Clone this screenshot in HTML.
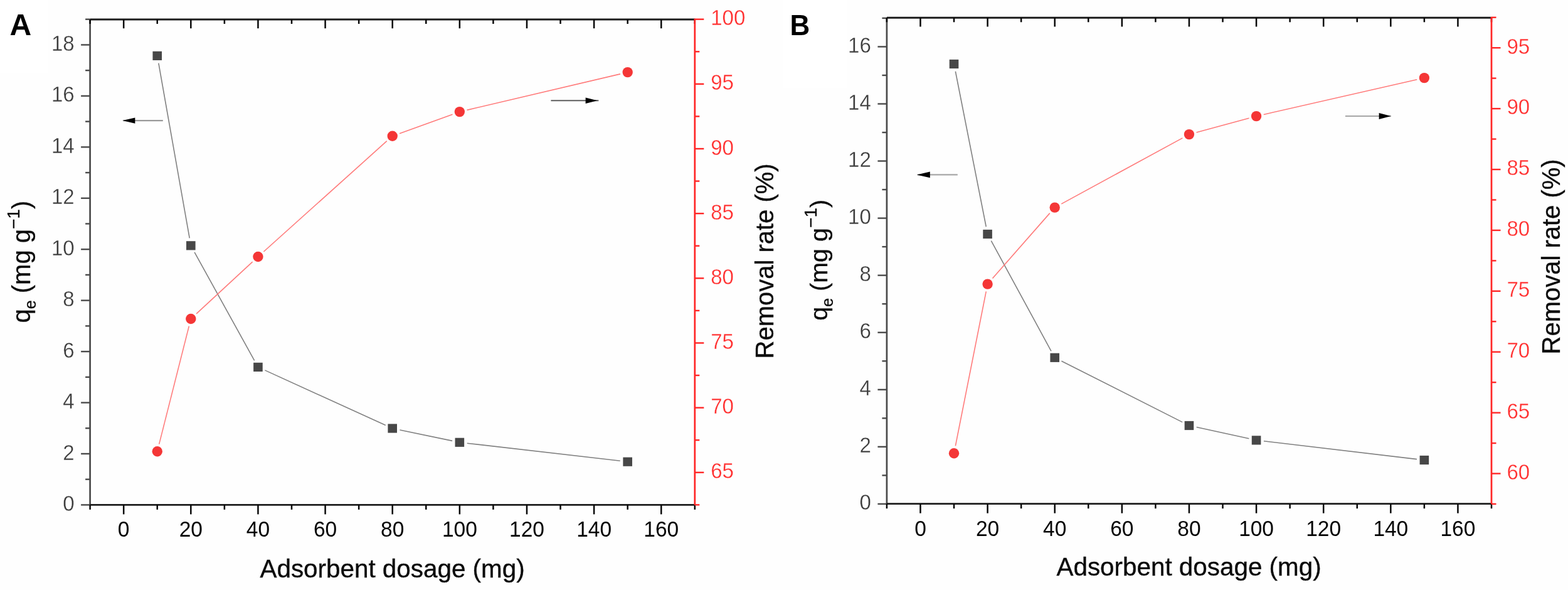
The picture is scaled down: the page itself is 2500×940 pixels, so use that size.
<!DOCTYPE html>
<html><head><meta charset="utf-8"><title>Adsorbent dosage</title>
<style>html,body{margin:0;padding:0;background:#fff;} svg{display:block;}</style></head>
<body><svg width="2500" height="940" viewBox="0 0 2500 940" font-family="Liberation Sans, Arial, sans-serif">
<rect width="2500" height="940" fill="#fefefe"/>
<rect width="76" height="116" fill="#fff"/>
<rect x="1248" width="102" height="140" fill="#fff"/>
<line x1="143.60" y1="31.00" x2="143.60" y2="804.40" stroke="#4a4a4a" stroke-width="2.7"/>
<line x1="129.10" y1="804.40" x2="143.60" y2="804.40" stroke="#4a4a4a" stroke-width="2.4"/>
<text transform="translate(118.60,814.00) scale(1,1.04)" text-anchor="end" font-size="33" fill="#3c3c3c" stroke="#fefefe" stroke-width="0.3">0</text>
<line x1="129.10" y1="722.96" x2="143.60" y2="722.96" stroke="#4a4a4a" stroke-width="2.4"/>
<text transform="translate(118.60,732.56) scale(1,1.04)" text-anchor="end" font-size="33" fill="#3c3c3c" stroke="#fefefe" stroke-width="0.3">2</text>
<line x1="129.10" y1="641.52" x2="143.60" y2="641.52" stroke="#4a4a4a" stroke-width="2.4"/>
<text transform="translate(118.60,651.12) scale(1,1.04)" text-anchor="end" font-size="33" fill="#3c3c3c" stroke="#fefefe" stroke-width="0.3">4</text>
<line x1="129.10" y1="560.08" x2="143.60" y2="560.08" stroke="#4a4a4a" stroke-width="2.4"/>
<text transform="translate(118.60,569.68) scale(1,1.04)" text-anchor="end" font-size="33" fill="#3c3c3c" stroke="#fefefe" stroke-width="0.3">6</text>
<line x1="129.10" y1="478.64" x2="143.60" y2="478.64" stroke="#4a4a4a" stroke-width="2.4"/>
<text transform="translate(118.60,488.24) scale(1,1.04)" text-anchor="end" font-size="33" fill="#3c3c3c" stroke="#fefefe" stroke-width="0.3">8</text>
<line x1="129.10" y1="397.20" x2="143.60" y2="397.20" stroke="#4a4a4a" stroke-width="2.4"/>
<text transform="translate(118.60,406.80) scale(1,1.04)" text-anchor="end" font-size="33" fill="#3c3c3c" stroke="#fefefe" stroke-width="0.3">10</text>
<line x1="129.10" y1="315.76" x2="143.60" y2="315.76" stroke="#4a4a4a" stroke-width="2.4"/>
<text transform="translate(118.60,325.36) scale(1,1.04)" text-anchor="end" font-size="33" fill="#3c3c3c" stroke="#fefefe" stroke-width="0.3">12</text>
<line x1="129.10" y1="234.32" x2="143.60" y2="234.32" stroke="#4a4a4a" stroke-width="2.4"/>
<text transform="translate(118.60,243.92) scale(1,1.04)" text-anchor="end" font-size="33" fill="#3c3c3c" stroke="#fefefe" stroke-width="0.3">14</text>
<line x1="129.10" y1="152.88" x2="143.60" y2="152.88" stroke="#4a4a4a" stroke-width="2.4"/>
<text transform="translate(118.60,162.48) scale(1,1.04)" text-anchor="end" font-size="33" fill="#3c3c3c" stroke="#fefefe" stroke-width="0.3">16</text>
<line x1="129.10" y1="71.44" x2="143.60" y2="71.44" stroke="#4a4a4a" stroke-width="2.4"/>
<text transform="translate(118.60,81.04) scale(1,1.04)" text-anchor="end" font-size="33" fill="#3c3c3c" stroke="#fefefe" stroke-width="0.3">18</text>
<line x1="136.10" y1="763.68" x2="143.60" y2="763.68" stroke="#4a4a4a" stroke-width="2.4"/>
<line x1="136.10" y1="682.24" x2="143.60" y2="682.24" stroke="#4a4a4a" stroke-width="2.4"/>
<line x1="136.10" y1="600.80" x2="143.60" y2="600.80" stroke="#4a4a4a" stroke-width="2.4"/>
<line x1="136.10" y1="519.36" x2="143.60" y2="519.36" stroke="#4a4a4a" stroke-width="2.4"/>
<line x1="136.10" y1="437.92" x2="143.60" y2="437.92" stroke="#4a4a4a" stroke-width="2.4"/>
<line x1="136.10" y1="356.48" x2="143.60" y2="356.48" stroke="#4a4a4a" stroke-width="2.4"/>
<line x1="136.10" y1="275.04" x2="143.60" y2="275.04" stroke="#4a4a4a" stroke-width="2.4"/>
<line x1="136.10" y1="193.60" x2="143.60" y2="193.60" stroke="#4a4a4a" stroke-width="2.4"/>
<line x1="136.10" y1="112.16" x2="143.60" y2="112.16" stroke="#4a4a4a" stroke-width="2.4"/>
<line x1="136.10" y1="30.72" x2="143.60" y2="30.72" stroke="#4a4a4a" stroke-width="2.4"/>
<line x1="143.60" y1="804.40" x2="1107.80" y2="804.40" stroke="#1c1c1c" stroke-width="2.8"/>
<line x1="143.60" y1="31.00" x2="1107.80" y2="31.00" stroke="#1c1c1c" stroke-width="2.9"/>
<line x1="197.17" y1="804.40" x2="197.17" y2="819.40" stroke="#080808" stroke-width="2.5"/>
<line x1="197.17" y1="31.00" x2="197.17" y2="45.20" stroke="#080808" stroke-width="2.5"/>
<text transform="translate(197.17,855.40) scale(1,1.04)" text-anchor="middle" font-size="33.5" fill="#050505">0</text>
<line x1="304.30" y1="804.40" x2="304.30" y2="819.40" stroke="#080808" stroke-width="2.5"/>
<line x1="304.30" y1="31.00" x2="304.30" y2="45.20" stroke="#080808" stroke-width="2.5"/>
<text transform="translate(304.30,855.40) scale(1,1.04)" text-anchor="middle" font-size="33.5" fill="#050505">20</text>
<line x1="411.43" y1="804.40" x2="411.43" y2="819.40" stroke="#080808" stroke-width="2.5"/>
<line x1="411.43" y1="31.00" x2="411.43" y2="45.20" stroke="#080808" stroke-width="2.5"/>
<text transform="translate(411.43,855.40) scale(1,1.04)" text-anchor="middle" font-size="33.5" fill="#050505">40</text>
<line x1="518.57" y1="804.40" x2="518.57" y2="819.40" stroke="#080808" stroke-width="2.5"/>
<line x1="518.57" y1="31.00" x2="518.57" y2="45.20" stroke="#080808" stroke-width="2.5"/>
<text transform="translate(518.57,855.40) scale(1,1.04)" text-anchor="middle" font-size="33.5" fill="#050505">60</text>
<line x1="625.70" y1="804.40" x2="625.70" y2="819.40" stroke="#080808" stroke-width="2.5"/>
<line x1="625.70" y1="31.00" x2="625.70" y2="45.20" stroke="#080808" stroke-width="2.5"/>
<text transform="translate(625.70,855.40) scale(1,1.04)" text-anchor="middle" font-size="33.5" fill="#050505">80</text>
<line x1="732.83" y1="804.40" x2="732.83" y2="819.40" stroke="#080808" stroke-width="2.5"/>
<line x1="732.83" y1="31.00" x2="732.83" y2="45.20" stroke="#080808" stroke-width="2.5"/>
<text transform="translate(732.83,855.40) scale(1,1.04)" text-anchor="middle" font-size="33.5" fill="#050505">100</text>
<line x1="839.97" y1="804.40" x2="839.97" y2="819.40" stroke="#080808" stroke-width="2.5"/>
<line x1="839.97" y1="31.00" x2="839.97" y2="45.20" stroke="#080808" stroke-width="2.5"/>
<text transform="translate(839.97,855.40) scale(1,1.04)" text-anchor="middle" font-size="33.5" fill="#050505">120</text>
<line x1="947.10" y1="804.40" x2="947.10" y2="819.40" stroke="#080808" stroke-width="2.5"/>
<line x1="947.10" y1="31.00" x2="947.10" y2="45.20" stroke="#080808" stroke-width="2.5"/>
<text transform="translate(947.10,855.40) scale(1,1.04)" text-anchor="middle" font-size="33.5" fill="#050505">140</text>
<line x1="1054.23" y1="804.40" x2="1054.23" y2="819.40" stroke="#080808" stroke-width="2.5"/>
<line x1="1054.23" y1="31.00" x2="1054.23" y2="45.20" stroke="#080808" stroke-width="2.5"/>
<text transform="translate(1054.23,855.40) scale(1,1.04)" text-anchor="middle" font-size="33.5" fill="#050505">160</text>
<line x1="143.60" y1="804.40" x2="143.60" y2="811.90" stroke="#080808" stroke-width="2.5"/>
<line x1="143.60" y1="31.00" x2="143.60" y2="38.00" stroke="#080808" stroke-width="2.5"/>
<line x1="250.73" y1="804.40" x2="250.73" y2="811.90" stroke="#080808" stroke-width="2.5"/>
<line x1="250.73" y1="31.00" x2="250.73" y2="38.00" stroke="#080808" stroke-width="2.5"/>
<line x1="357.87" y1="804.40" x2="357.87" y2="811.90" stroke="#080808" stroke-width="2.5"/>
<line x1="357.87" y1="31.00" x2="357.87" y2="38.00" stroke="#080808" stroke-width="2.5"/>
<line x1="465.00" y1="804.40" x2="465.00" y2="811.90" stroke="#080808" stroke-width="2.5"/>
<line x1="465.00" y1="31.00" x2="465.00" y2="38.00" stroke="#080808" stroke-width="2.5"/>
<line x1="572.13" y1="804.40" x2="572.13" y2="811.90" stroke="#080808" stroke-width="2.5"/>
<line x1="572.13" y1="31.00" x2="572.13" y2="38.00" stroke="#080808" stroke-width="2.5"/>
<line x1="679.27" y1="804.40" x2="679.27" y2="811.90" stroke="#080808" stroke-width="2.5"/>
<line x1="679.27" y1="31.00" x2="679.27" y2="38.00" stroke="#080808" stroke-width="2.5"/>
<line x1="786.40" y1="804.40" x2="786.40" y2="811.90" stroke="#080808" stroke-width="2.5"/>
<line x1="786.40" y1="31.00" x2="786.40" y2="38.00" stroke="#080808" stroke-width="2.5"/>
<line x1="893.53" y1="804.40" x2="893.53" y2="811.90" stroke="#080808" stroke-width="2.5"/>
<line x1="893.53" y1="31.00" x2="893.53" y2="38.00" stroke="#080808" stroke-width="2.5"/>
<line x1="1000.67" y1="804.40" x2="1000.67" y2="811.90" stroke="#080808" stroke-width="2.5"/>
<line x1="1000.67" y1="31.00" x2="1000.67" y2="38.00" stroke="#080808" stroke-width="2.5"/>
<line x1="1107.80" y1="804.40" x2="1107.80" y2="811.90" stroke="#080808" stroke-width="2.5"/>
<line x1="1107.80" y1="31.00" x2="1107.80" y2="38.00" stroke="#080808" stroke-width="2.5"/>
<line x1="1107.80" y1="29.80" x2="1107.80" y2="804.40" stroke="#ff2626" stroke-width="2.7"/>
<line x1="1107.80" y1="752.75" x2="1122.30" y2="752.75" stroke="#ff2626" stroke-width="2.4"/>
<text transform="translate(1133.20,762.35) scale(1,1.04)" font-size="33" fill="#ff2f2f" stroke="#fefefe" stroke-width="0.3">65</text>
<line x1="1107.80" y1="649.60" x2="1122.30" y2="649.60" stroke="#ff2626" stroke-width="2.4"/>
<text transform="translate(1133.20,659.20) scale(1,1.04)" font-size="33" fill="#ff2f2f" stroke="#fefefe" stroke-width="0.3">70</text>
<line x1="1107.80" y1="546.45" x2="1122.30" y2="546.45" stroke="#ff2626" stroke-width="2.4"/>
<text transform="translate(1133.20,556.05) scale(1,1.04)" font-size="33" fill="#ff2f2f" stroke="#fefefe" stroke-width="0.3">75</text>
<line x1="1107.80" y1="443.30" x2="1122.30" y2="443.30" stroke="#ff2626" stroke-width="2.4"/>
<text transform="translate(1133.20,452.90) scale(1,1.04)" font-size="33" fill="#ff2f2f" stroke="#fefefe" stroke-width="0.3">80</text>
<line x1="1107.80" y1="340.15" x2="1122.30" y2="340.15" stroke="#ff2626" stroke-width="2.4"/>
<text transform="translate(1133.20,349.75) scale(1,1.04)" font-size="33" fill="#ff2f2f" stroke="#fefefe" stroke-width="0.3">85</text>
<line x1="1107.80" y1="237.00" x2="1122.30" y2="237.00" stroke="#ff2626" stroke-width="2.4"/>
<text transform="translate(1133.20,246.60) scale(1,1.04)" font-size="33" fill="#ff2f2f" stroke="#fefefe" stroke-width="0.3">90</text>
<line x1="1107.80" y1="133.85" x2="1122.30" y2="133.85" stroke="#ff2626" stroke-width="2.4"/>
<text transform="translate(1133.20,143.45) scale(1,1.04)" font-size="33" fill="#ff2f2f" stroke="#fefefe" stroke-width="0.3">95</text>
<line x1="1107.80" y1="30.70" x2="1122.30" y2="30.70" stroke="#ff2626" stroke-width="2.4"/>
<text transform="translate(1133.20,40.30) scale(1,1.04)" font-size="33" fill="#ff2f2f" stroke="#fefefe" stroke-width="0.3">100</text>
<line x1="1107.80" y1="804.33" x2="1115.30" y2="804.33" stroke="#ff2626" stroke-width="2.4"/>
<line x1="1107.80" y1="701.18" x2="1115.30" y2="701.18" stroke="#ff2626" stroke-width="2.4"/>
<line x1="1107.80" y1="598.02" x2="1115.30" y2="598.02" stroke="#ff2626" stroke-width="2.4"/>
<line x1="1107.80" y1="494.87" x2="1115.30" y2="494.87" stroke="#ff2626" stroke-width="2.4"/>
<line x1="1107.80" y1="391.72" x2="1115.30" y2="391.72" stroke="#ff2626" stroke-width="2.4"/>
<line x1="1107.80" y1="288.57" x2="1115.30" y2="288.57" stroke="#ff2626" stroke-width="2.4"/>
<line x1="1107.80" y1="185.42" x2="1115.30" y2="185.42" stroke="#ff2626" stroke-width="2.4"/>
<line x1="1107.80" y1="82.27" x2="1115.30" y2="82.27" stroke="#ff2626" stroke-width="2.4"/>
<line x1="252.83" y1="100.72" x2="302.21" y2="379.48" stroke="#808080" stroke-width="1.6"/>
<line x1="310.11" y1="401.80" x2="405.62" y2="574.40" stroke="#808080" stroke-width="1.6"/>
<line x1="422.35" y1="589.87" x2="614.78" y2="677.53" stroke="#808080" stroke-width="1.6"/>
<line x1="637.45" y1="684.95" x2="721.09" y2="702.35" stroke="#808080" stroke-width="1.6"/>
<line x1="744.75" y1="706.18" x2="988.75" y2="734.32" stroke="#808080" stroke-width="1.6"/>
<line x1="253.68" y1="707.67" x2="301.35" y2="519.63" stroke="#ff7a7a" stroke-width="1.6"/>
<line x1="313.11" y1="499.86" x2="402.62" y2="417.14" stroke="#ff7a7a" stroke-width="1.6"/>
<line x1="420.36" y1="400.98" x2="616.77" y2="224.72" stroke="#ff7a7a" stroke-width="1.6"/>
<line x1="636.99" y1="212.63" x2="721.54" y2="182.17" stroke="#ff7a7a" stroke-width="1.6"/>
<line x1="744.51" y1="175.35" x2="988.99" y2="117.85" stroke="#ff7a7a" stroke-width="1.6"/>
<rect x="243.43" y="81.80" width="14.6" height="14.2" fill="#474747"/>
<rect x="297.00" y="384.20" width="14.6" height="14.2" fill="#474747"/>
<rect x="404.13" y="577.80" width="14.6" height="14.2" fill="#474747"/>
<rect x="618.40" y="675.40" width="14.6" height="14.2" fill="#474747"/>
<rect x="725.53" y="697.70" width="14.6" height="14.2" fill="#474747"/>
<rect x="993.37" y="728.60" width="14.6" height="14.2" fill="#474747"/>
<circle cx="250.73" cy="719.30" r="8.2" fill="#f43636"/>
<circle cx="304.30" cy="508.00" r="8.2" fill="#f43636"/>
<circle cx="411.43" cy="409.00" r="8.2" fill="#f43636"/>
<circle cx="625.70" cy="216.70" r="8.2" fill="#f43636"/>
<circle cx="732.83" cy="178.10" r="8.2" fill="#f43636"/>
<circle cx="1000.67" cy="115.10" r="8.2" fill="#f43636"/>
<line x1="196.50" y1="192.10" x2="259.80" y2="192.10" stroke="#999999" stroke-width="2.1"/>
<polygon points="195.20,192.10 215.40,187.40 215.40,196.80" fill="#000"/>
<line x1="878.40" y1="160.20" x2="954.40" y2="160.20" stroke="#5c5c5c" stroke-width="2.1"/>
<polygon points="952.50,160.20 933.60,155.50 933.60,164.90" fill="#000"/>
<line x1="1413.90" y1="28.30" x2="1413.90" y2="802.70" stroke="#4a4a4a" stroke-width="2.7"/>
<line x1="1399.40" y1="802.90" x2="1413.90" y2="802.90" stroke="#4a4a4a" stroke-width="2.4"/>
<text transform="translate(1388.80,812.20) scale(1,1.04)" text-anchor="end" font-size="33" fill="#3c3c3c" stroke="#fefefe" stroke-width="0.3">0</text>
<line x1="1399.40" y1="711.84" x2="1413.90" y2="711.84" stroke="#4a4a4a" stroke-width="2.4"/>
<text transform="translate(1388.80,721.14) scale(1,1.04)" text-anchor="end" font-size="33" fill="#3c3c3c" stroke="#fefefe" stroke-width="0.3">2</text>
<line x1="1399.40" y1="620.78" x2="1413.90" y2="620.78" stroke="#4a4a4a" stroke-width="2.4"/>
<text transform="translate(1388.80,630.08) scale(1,1.04)" text-anchor="end" font-size="33" fill="#3c3c3c" stroke="#fefefe" stroke-width="0.3">4</text>
<line x1="1399.40" y1="529.72" x2="1413.90" y2="529.72" stroke="#4a4a4a" stroke-width="2.4"/>
<text transform="translate(1388.80,539.02) scale(1,1.04)" text-anchor="end" font-size="33" fill="#3c3c3c" stroke="#fefefe" stroke-width="0.3">6</text>
<line x1="1399.40" y1="438.66" x2="1413.90" y2="438.66" stroke="#4a4a4a" stroke-width="2.4"/>
<text transform="translate(1388.80,447.96) scale(1,1.04)" text-anchor="end" font-size="33" fill="#3c3c3c" stroke="#fefefe" stroke-width="0.3">8</text>
<line x1="1399.40" y1="347.60" x2="1413.90" y2="347.60" stroke="#4a4a4a" stroke-width="2.4"/>
<text transform="translate(1388.80,356.90) scale(1,1.04)" text-anchor="end" font-size="33" fill="#3c3c3c" stroke="#fefefe" stroke-width="0.3">10</text>
<line x1="1399.40" y1="256.54" x2="1413.90" y2="256.54" stroke="#4a4a4a" stroke-width="2.4"/>
<text transform="translate(1388.80,265.84) scale(1,1.04)" text-anchor="end" font-size="33" fill="#3c3c3c" stroke="#fefefe" stroke-width="0.3">12</text>
<line x1="1399.40" y1="165.48" x2="1413.90" y2="165.48" stroke="#4a4a4a" stroke-width="2.4"/>
<text transform="translate(1388.80,174.78) scale(1,1.04)" text-anchor="end" font-size="33" fill="#3c3c3c" stroke="#fefefe" stroke-width="0.3">14</text>
<line x1="1399.40" y1="74.42" x2="1413.90" y2="74.42" stroke="#4a4a4a" stroke-width="2.4"/>
<text transform="translate(1388.80,83.72) scale(1,1.04)" text-anchor="end" font-size="33" fill="#3c3c3c" stroke="#fefefe" stroke-width="0.3">16</text>
<line x1="1406.40" y1="757.37" x2="1413.90" y2="757.37" stroke="#4a4a4a" stroke-width="2.4"/>
<line x1="1406.40" y1="666.31" x2="1413.90" y2="666.31" stroke="#4a4a4a" stroke-width="2.4"/>
<line x1="1406.40" y1="575.25" x2="1413.90" y2="575.25" stroke="#4a4a4a" stroke-width="2.4"/>
<line x1="1406.40" y1="484.19" x2="1413.90" y2="484.19" stroke="#4a4a4a" stroke-width="2.4"/>
<line x1="1406.40" y1="393.13" x2="1413.90" y2="393.13" stroke="#4a4a4a" stroke-width="2.4"/>
<line x1="1406.40" y1="302.07" x2="1413.90" y2="302.07" stroke="#4a4a4a" stroke-width="2.4"/>
<line x1="1406.40" y1="211.01" x2="1413.90" y2="211.01" stroke="#4a4a4a" stroke-width="2.4"/>
<line x1="1406.40" y1="119.95" x2="1413.90" y2="119.95" stroke="#4a4a4a" stroke-width="2.4"/>
<line x1="1406.40" y1="28.89" x2="1413.90" y2="28.89" stroke="#4a4a4a" stroke-width="2.4"/>
<line x1="1413.90" y1="802.70" x2="2378.00" y2="802.70" stroke="#1c1c1c" stroke-width="2.8"/>
<line x1="1413.90" y1="28.30" x2="2378.00" y2="28.30" stroke="#1c1c1c" stroke-width="2.9"/>
<line x1="1467.46" y1="802.70" x2="1467.46" y2="817.70" stroke="#080808" stroke-width="2.5"/>
<line x1="1467.46" y1="28.30" x2="1467.46" y2="42.50" stroke="#080808" stroke-width="2.5"/>
<text transform="translate(1467.46,853.80) scale(1,1.04)" text-anchor="middle" font-size="33.5" fill="#050505">0</text>
<line x1="1574.58" y1="802.70" x2="1574.58" y2="817.70" stroke="#080808" stroke-width="2.5"/>
<line x1="1574.58" y1="28.30" x2="1574.58" y2="42.50" stroke="#080808" stroke-width="2.5"/>
<text transform="translate(1574.58,853.80) scale(1,1.04)" text-anchor="middle" font-size="33.5" fill="#050505">20</text>
<line x1="1681.71" y1="802.70" x2="1681.71" y2="817.70" stroke="#080808" stroke-width="2.5"/>
<line x1="1681.71" y1="28.30" x2="1681.71" y2="42.50" stroke="#080808" stroke-width="2.5"/>
<text transform="translate(1681.71,853.80) scale(1,1.04)" text-anchor="middle" font-size="33.5" fill="#050505">40</text>
<line x1="1788.83" y1="802.70" x2="1788.83" y2="817.70" stroke="#080808" stroke-width="2.5"/>
<line x1="1788.83" y1="28.30" x2="1788.83" y2="42.50" stroke="#080808" stroke-width="2.5"/>
<text transform="translate(1788.83,853.80) scale(1,1.04)" text-anchor="middle" font-size="33.5" fill="#050505">60</text>
<line x1="1895.95" y1="802.70" x2="1895.95" y2="817.70" stroke="#080808" stroke-width="2.5"/>
<line x1="1895.95" y1="28.30" x2="1895.95" y2="42.50" stroke="#080808" stroke-width="2.5"/>
<text transform="translate(1895.95,853.80) scale(1,1.04)" text-anchor="middle" font-size="33.5" fill="#050505">80</text>
<line x1="2003.07" y1="802.70" x2="2003.07" y2="817.70" stroke="#080808" stroke-width="2.5"/>
<line x1="2003.07" y1="28.30" x2="2003.07" y2="42.50" stroke="#080808" stroke-width="2.5"/>
<text transform="translate(2003.07,853.80) scale(1,1.04)" text-anchor="middle" font-size="33.5" fill="#050505">100</text>
<line x1="2110.19" y1="802.70" x2="2110.19" y2="817.70" stroke="#080808" stroke-width="2.5"/>
<line x1="2110.19" y1="28.30" x2="2110.19" y2="42.50" stroke="#080808" stroke-width="2.5"/>
<text transform="translate(2110.19,853.80) scale(1,1.04)" text-anchor="middle" font-size="33.5" fill="#050505">120</text>
<line x1="2217.32" y1="802.70" x2="2217.32" y2="817.70" stroke="#080808" stroke-width="2.5"/>
<line x1="2217.32" y1="28.30" x2="2217.32" y2="42.50" stroke="#080808" stroke-width="2.5"/>
<text transform="translate(2217.32,853.80) scale(1,1.04)" text-anchor="middle" font-size="33.5" fill="#050505">140</text>
<line x1="2324.44" y1="802.70" x2="2324.44" y2="817.70" stroke="#080808" stroke-width="2.5"/>
<line x1="2324.44" y1="28.30" x2="2324.44" y2="42.50" stroke="#080808" stroke-width="2.5"/>
<text transform="translate(2324.44,853.80) scale(1,1.04)" text-anchor="middle" font-size="33.5" fill="#050505">160</text>
<line x1="1413.90" y1="802.70" x2="1413.90" y2="810.20" stroke="#080808" stroke-width="2.5"/>
<line x1="1413.90" y1="28.30" x2="1413.90" y2="35.30" stroke="#080808" stroke-width="2.5"/>
<line x1="1521.02" y1="802.70" x2="1521.02" y2="810.20" stroke="#080808" stroke-width="2.5"/>
<line x1="1521.02" y1="28.30" x2="1521.02" y2="35.30" stroke="#080808" stroke-width="2.5"/>
<line x1="1628.14" y1="802.70" x2="1628.14" y2="810.20" stroke="#080808" stroke-width="2.5"/>
<line x1="1628.14" y1="28.30" x2="1628.14" y2="35.30" stroke="#080808" stroke-width="2.5"/>
<line x1="1735.27" y1="802.70" x2="1735.27" y2="810.20" stroke="#080808" stroke-width="2.5"/>
<line x1="1735.27" y1="28.30" x2="1735.27" y2="35.30" stroke="#080808" stroke-width="2.5"/>
<line x1="1842.39" y1="802.70" x2="1842.39" y2="810.20" stroke="#080808" stroke-width="2.5"/>
<line x1="1842.39" y1="28.30" x2="1842.39" y2="35.30" stroke="#080808" stroke-width="2.5"/>
<line x1="1949.51" y1="802.70" x2="1949.51" y2="810.20" stroke="#080808" stroke-width="2.5"/>
<line x1="1949.51" y1="28.30" x2="1949.51" y2="35.30" stroke="#080808" stroke-width="2.5"/>
<line x1="2056.63" y1="802.70" x2="2056.63" y2="810.20" stroke="#080808" stroke-width="2.5"/>
<line x1="2056.63" y1="28.30" x2="2056.63" y2="35.30" stroke="#080808" stroke-width="2.5"/>
<line x1="2163.76" y1="802.70" x2="2163.76" y2="810.20" stroke="#080808" stroke-width="2.5"/>
<line x1="2163.76" y1="28.30" x2="2163.76" y2="35.30" stroke="#080808" stroke-width="2.5"/>
<line x1="2270.88" y1="802.70" x2="2270.88" y2="810.20" stroke="#080808" stroke-width="2.5"/>
<line x1="2270.88" y1="28.30" x2="2270.88" y2="35.30" stroke="#080808" stroke-width="2.5"/>
<line x1="2378.00" y1="802.70" x2="2378.00" y2="810.20" stroke="#080808" stroke-width="2.5"/>
<line x1="2378.00" y1="28.30" x2="2378.00" y2="35.30" stroke="#080808" stroke-width="2.5"/>
<line x1="2378.00" y1="27.10" x2="2378.00" y2="802.70" stroke="#ff2626" stroke-width="2.7"/>
<line x1="2378.00" y1="754.50" x2="2392.50" y2="754.50" stroke="#ff2626" stroke-width="2.4"/>
<text transform="translate(2402.50,763.80) scale(1,1.04)" font-size="33" fill="#ff2f2f" stroke="#fefefe" stroke-width="0.3">60</text>
<line x1="2378.00" y1="657.60" x2="2392.50" y2="657.60" stroke="#ff2626" stroke-width="2.4"/>
<text transform="translate(2402.50,666.90) scale(1,1.04)" font-size="33" fill="#ff2f2f" stroke="#fefefe" stroke-width="0.3">65</text>
<line x1="2378.00" y1="560.70" x2="2392.50" y2="560.70" stroke="#ff2626" stroke-width="2.4"/>
<text transform="translate(2402.50,570.00) scale(1,1.04)" font-size="33" fill="#ff2f2f" stroke="#fefefe" stroke-width="0.3">70</text>
<line x1="2378.00" y1="463.80" x2="2392.50" y2="463.80" stroke="#ff2626" stroke-width="2.4"/>
<text transform="translate(2402.50,473.10) scale(1,1.04)" font-size="33" fill="#ff2f2f" stroke="#fefefe" stroke-width="0.3">75</text>
<line x1="2378.00" y1="366.90" x2="2392.50" y2="366.90" stroke="#ff2626" stroke-width="2.4"/>
<text transform="translate(2402.50,376.20) scale(1,1.04)" font-size="33" fill="#ff2f2f" stroke="#fefefe" stroke-width="0.3">80</text>
<line x1="2378.00" y1="270.00" x2="2392.50" y2="270.00" stroke="#ff2626" stroke-width="2.4"/>
<text transform="translate(2402.50,279.30) scale(1,1.04)" font-size="33" fill="#ff2f2f" stroke="#fefefe" stroke-width="0.3">85</text>
<line x1="2378.00" y1="173.10" x2="2392.50" y2="173.10" stroke="#ff2626" stroke-width="2.4"/>
<text transform="translate(2402.50,182.40) scale(1,1.04)" font-size="33" fill="#ff2f2f" stroke="#fefefe" stroke-width="0.3">90</text>
<line x1="2378.00" y1="76.20" x2="2392.50" y2="76.20" stroke="#ff2626" stroke-width="2.4"/>
<text transform="translate(2402.50,85.50) scale(1,1.04)" font-size="33" fill="#ff2f2f" stroke="#fefefe" stroke-width="0.3">95</text>
<line x1="2378.00" y1="802.95" x2="2385.50" y2="802.95" stroke="#ff2626" stroke-width="2.4"/>
<line x1="2378.00" y1="706.05" x2="2385.50" y2="706.05" stroke="#ff2626" stroke-width="2.4"/>
<line x1="2378.00" y1="609.15" x2="2385.50" y2="609.15" stroke="#ff2626" stroke-width="2.4"/>
<line x1="2378.00" y1="512.25" x2="2385.50" y2="512.25" stroke="#ff2626" stroke-width="2.4"/>
<line x1="2378.00" y1="415.35" x2="2385.50" y2="415.35" stroke="#ff2626" stroke-width="2.4"/>
<line x1="2378.00" y1="318.45" x2="2385.50" y2="318.45" stroke="#ff2626" stroke-width="2.4"/>
<line x1="2378.00" y1="221.55" x2="2385.50" y2="221.55" stroke="#ff2626" stroke-width="2.4"/>
<line x1="2378.00" y1="124.65" x2="2385.50" y2="124.65" stroke="#ff2626" stroke-width="2.4"/>
<line x1="2378.00" y1="27.75" x2="2385.50" y2="27.75" stroke="#ff2626" stroke-width="2.4"/>
<line x1="1523.35" y1="113.77" x2="1572.26" y2="361.23" stroke="#808080" stroke-width="1.6"/>
<line x1="1580.32" y1="383.54" x2="1675.97" y2="559.26" stroke="#808080" stroke-width="1.6"/>
<line x1="1692.42" y1="575.21" x2="1885.24" y2="672.59" stroke="#808080" stroke-width="1.6"/>
<line x1="1907.67" y1="680.56" x2="1991.35" y2="698.84" stroke="#808080" stroke-width="1.6"/>
<line x1="2014.99" y1="702.81" x2="2258.96" y2="731.59" stroke="#808080" stroke-width="1.6"/>
<line x1="1523.36" y1="710.43" x2="1572.25" y2="464.37" stroke="#ff7a7a" stroke-width="1.6"/>
<line x1="1582.50" y1="443.58" x2="1673.79" y2="339.62" stroke="#ff7a7a" stroke-width="1.6"/>
<line x1="1692.25" y1="324.87" x2="1885.41" y2="219.83" stroke="#ff7a7a" stroke-width="1.6"/>
<line x1="1907.53" y1="210.96" x2="1991.49" y2="188.24" stroke="#ff7a7a" stroke-width="1.6"/>
<line x1="2014.77" y1="182.43" x2="2259.18" y2="126.77" stroke="#ff7a7a" stroke-width="1.6"/>
<rect x="1513.72" y="94.90" width="14.6" height="14.2" fill="#474747"/>
<rect x="1567.28" y="365.90" width="14.6" height="14.2" fill="#474747"/>
<rect x="1674.41" y="562.70" width="14.6" height="14.2" fill="#474747"/>
<rect x="1888.65" y="670.90" width="14.6" height="14.2" fill="#474747"/>
<rect x="1995.77" y="694.30" width="14.6" height="14.2" fill="#474747"/>
<rect x="2263.58" y="725.90" width="14.6" height="14.2" fill="#474747"/>
<circle cx="1521.02" cy="722.20" r="8.2" fill="#f43636"/>
<circle cx="1574.58" cy="452.60" r="8.2" fill="#f43636"/>
<circle cx="1681.71" cy="330.60" r="8.2" fill="#f43636"/>
<circle cx="1895.95" cy="214.10" r="8.2" fill="#f43636"/>
<circle cx="2003.07" cy="185.10" r="8.2" fill="#f43636"/>
<circle cx="2270.88" cy="124.10" r="8.2" fill="#f43636"/>
<line x1="1463.00" y1="278.40" x2="1526.80" y2="278.40" stroke="#a6a6a6" stroke-width="2.1"/>
<polygon points="1461.70,278.40 1482.80,273.60 1482.80,283.20" fill="#000"/>
<line x1="2144.90" y1="185.00" x2="2217.80" y2="185.00" stroke="#a6a6a6" stroke-width="2.1"/>
<polygon points="2217.80,185.00 2198.60,180.00 2198.60,190.00" fill="#000"/>
<text x="414.5" y="919.7" font-size="40.4" fill="#0a0a0a" stroke="#0a0a0a" stroke-width="0.35">Adsorbent dosage (mg)</text>
<text x="1684.5" y="917.3" font-size="40.4" fill="#0a0a0a" stroke="#0a0a0a" stroke-width="0.35">Adsorbent dosage (mg)</text>
<text transform="translate(1233.00,571.50) rotate(-90)" font-size="40" fill="#0a0a0a" stroke="#0a0a0a" stroke-width="0.35">Removal rate (%)</text>
<text transform="translate(2487.00,564.50) rotate(-90)" font-size="40" fill="#0a0a0a" stroke="#0a0a0a" stroke-width="0.35">Removal rate (%)</text>
<text transform="translate(47.50,514.50) rotate(-90)" font-size="40" fill="#0a0a0a" stroke="#0a0a0a" stroke-width="0.3">q<tspan font-size="25" dy="9">e</tspan><tspan dy="-9"> (mg g</tspan><tspan font-size="28" dy="-17">−1</tspan><tspan dy="17">)</tspan></text>
<text transform="translate(1318.80,510.80) rotate(-90)" font-size="39.5" fill="#0a0a0a" stroke="#0a0a0a" stroke-width="0.3">q<tspan font-size="25" dy="9">e</tspan><tspan dy="-9"> (mg g</tspan><tspan font-size="28" dy="-17">−1</tspan><tspan dy="17">)</tspan></text>
<text x="15.5" y="56" font-size="48" font-weight="bold" fill="#000">A</text>
<text transform="translate(1259.5,56.3) scale(0.915,0.98)" font-size="48" font-weight="bold" fill="#000">B</text>
</svg></body></html>
